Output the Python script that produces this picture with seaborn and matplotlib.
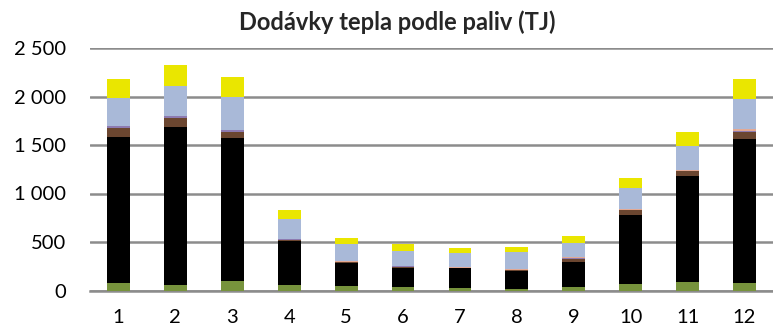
import matplotlib
matplotlib.use("Agg")
import matplotlib.pyplot as plt
from matplotlib.ticker import FuncFormatter
import numpy as np
import seaborn as sns

months = ["1", "2", "3", "4", "5", "6", "7", "8", "9", "10", "11", "12"]

# Heat supply by fuel (TJ), stacked bottom to top
biomasa = [82, 55, 93, 53, 46, 39, 21, 11, 41, 65, 89, 82]
uhli = [1505, 1635, 1477, 454, 236, 197, 208, 193, 256, 712, 1087, 1483]
hnede = [93, 93, 69, 14, 8, 8, 4, 5, 23, 48, 51, 70]
oleje = [12, 12, 12, 7, 6, 5, 3, 4, 15, 8, 10, 10]
ostatni = [5, 5, 5, 7, 3, 4, 3, 12, 6, 12, 7, 15]
plyn = [286, 313, 340, 204, 176, 159, 148, 169, 153, 208, 246, 315]
jine = [199, 213, 200, 90, 67, 63, 53, 50, 65, 109, 143, 207]

series = [biomasa, uhli, hnede, oleje, ostatni, plyn, jine]
colors = ["#77933C", "#000000", "#6B4630", "#8D7AB0", "#E3A994", "#A9B9D8", "#EAE600"]

sns.set_style("white")
plt.rcParams["font.family"] = ["Lato", "DejaVu Sans"]

fig = plt.figure(figsize=(7.73, 3.31), dpi=100)
ax = fig.add_axes([90 / 773, 1 - 290.5 / 331, 1 - 90 / 773, (290.5 - 48) / 331])

bottom = np.zeros(len(months))
for vals, col in zip(series, colors):
    sns.barplot(x=months, y=vals, bottom=bottom, color=col, width=0.4,
                saturation=1, linewidth=0, errorbar=None, ax=ax, zorder=3)
    bottom = bottom + np.array(vals)

ax.set_ylim(0, 2500)
ax.set_yticks(range(0, 2501, 500))
ax.yaxis.set_major_formatter(FuncFormatter(lambda v, p: f"{int(v):,}".replace(",", " ")))
ax.grid(axis="y", color="#8c8c8c", linewidth=1.8, zorder=0)
ax.grid(axis="x", visible=False)
for s in ["top", "right", "left"]:
    ax.spines[s].set_visible(False)
ax.spines["bottom"].set_color("#8c8c8c")
ax.spines["bottom"].set_linewidth(1.8)
ax.tick_params(axis="both", length=0, labelsize=14.5, colors="#000000")
ax.tick_params(axis="y", pad=17)
ax.tick_params(axis="x", pad=13)
ax.set_xlabel("")
ax.set_ylabel("")

fig.text(397 / 773, 1 - 22 / 331, "Dodávky tepla podle paliv (TJ)", ha="center", va="center",
         fontsize=17, fontweight="bold")

fig.savefig("out.png", dpi=100)
